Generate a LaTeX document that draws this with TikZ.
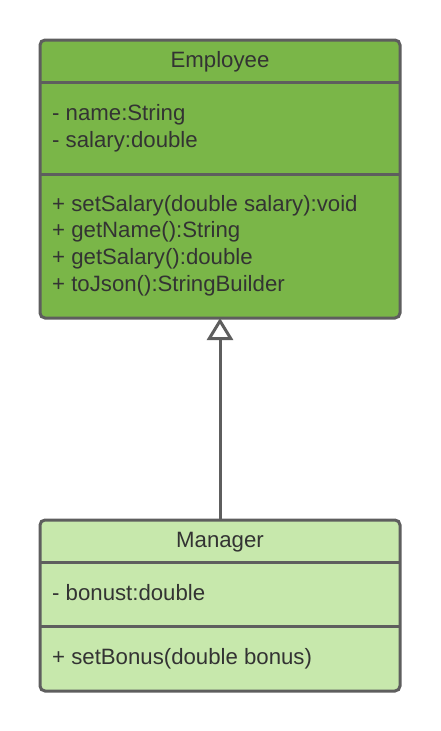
\documentclass[tikz,border=0pt]{standalone}
\usepackage{fontspec}
\setmainfont{Liberation Sans}
\usetikzlibrary{arrows.meta}
\definecolor{empfill}{HTML}{7AB648}
\definecolor{mgrfill}{HTML}{C7E8AC}
\definecolor{edgec}{HTML}{5E5E5E}
\definecolor{txtc}{HTML}{333333}
\begin{document}
\begin{tikzpicture}[x=1pt,y=-1pt,
  classbox/.style={draw=edgec, line width=3pt, rounded corners=5pt, inner sep=0pt, outer sep=0pt},
  sepline/.style={draw=edgec, line width=3pt},
  lbl/.style={text=txtc, font=\fontsize{22.2}{26}\selectfont, inner sep=0pt, anchor=base west},
  ttl/.style={text=txtc, font=\fontsize{22.2}{26}\selectfont, inner sep=0pt, anchor=base},
  inherit/.style={draw=edgec, line width=3pt, -{Triangle[open, length=22pt, width=26pt, fill=white]}}]
\useasboundingbox (0,0) rectangle (440,731);
% Employee
\node[classbox, fill=empfill, minimum width=360pt, minimum height=278pt, anchor=north west] (emp) at (40,40) {};
\draw[sepline] (40,82.3) -- (400,82.3);
\draw[sepline] (40,174) -- (400,174);
\node[ttl] (empt) at (220,67) {Employee};
\node[lbl] (ea1) at (52,120.5) {- name:String};
\node[lbl] (ea2) at (52,147.3) {- salary:double};
\node[lbl] (em1) at (52,211) {+ setSalary(double salary):void};
\node[lbl] (em2) at (52,237.7) {+ getName():String};
\node[lbl] (em3) at (52,264.3) {+ getSalary():double};
\node[lbl] (em4) at (52,291) {+ toJson():StringBuilder};
% Manager
\node[classbox, fill=mgrfill, minimum width=360pt, minimum height=171pt, anchor=north west] (mgr) at (40,520) {};
\draw[sepline] (40,562.3) -- (400,562.3);
\draw[sepline] (40,626.7) -- (400,626.7);
\node[ttl] (mgrt) at (220,547) {Manager};
\node[lbl] (ma1) at (52,600) {- bonust:double};
\node[lbl] (mm1) at (52,664) {+ setBonus(double bonus)};
% inheritance
\draw[inherit] (mgr.north) -- (emp.south);
\end{tikzpicture}
\end{document}
